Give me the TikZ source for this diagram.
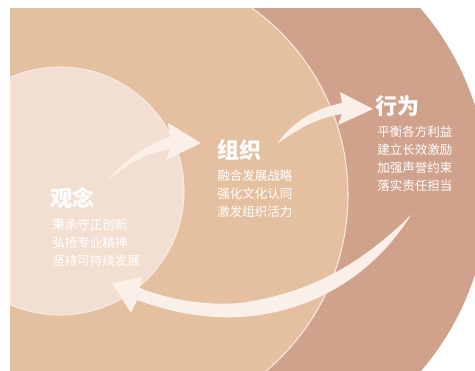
\documentclass[tikz,border=0pt]{standalone}
\usepackage{fontspec}
\newfontfamily\cjk{Noto Sans CJK SC}
\usetikzlibrary{positioning}

\definecolor{outerc}{RGB}{208,162,140}
\definecolor{midc}{RGB}{229,192,160}
\definecolor{innerc}{RGB}{243,222,210}
\definecolor{linec}{RGB}{248,234,224}
\definecolor{arrowc}{RGB}{251,240,233}

\begin{document}
\begin{tikzpicture}[x=0.75pt,y=-0.75pt,
  title/.style={anchor=west,inner sep=0pt,text=white,
    font=\cjk\bfseries\fontsize{16.5}{18}\selectfont},
  item/.style={anchor=west,inner sep=0pt,text=white,
    font=\cjk\fontsize{9.4}{11}\selectfont},
  ring/.style={draw=linec,line width=0.8pt},
  brush/.style={fill=arrowc,draw=none}]
  \useasboundingbox (0,0) rectangle (475,371);
  % draw the three circles
  \begin{scope}
    \clip (10,8) rectangle (475,371);
    \fill[outerc] (210,190) circle (278);
    \fill[midc] (118,195) circle (230);
    \draw[ring] (118,195) circle (230);
    \fill[innerc] (60,191) circle (124);
    \draw[ring] (60,191) circle (124);
  \end{scope}
  % draw titles
  \node[title] (gn) at (50,198) {观念};
  \node[title] (zz) at (217,150) {组织};
  \node[title] (xw) at (375,106) {行为};
  % draw items under each title
  \foreach \t [count=\i from 1] in {秉承守正创新,弘扬专业精神,坚持可持续发展}
    \node[item] (gn\i) at (52,207+18*\i) {\t};
  \foreach \t [count=\i from 1] in {融合发展战略,强化文化认同,激发组织活力}
    \node[item] (zz\i) at (217,158+18*\i) {\t};
  \foreach \t [count=\i from 1] in {平衡各方利益,建立长效激励,加强声誉约束,落实责任担当}
    \node[item] (xw\i) at (377,114.5+17.7*\i) {\t};
  % arrow ends
  \coordinate (t1) at (107,181);
  \coordinate (p1) at (201,143);
  \coordinate (t2) at (277,144);
  \coordinate (p2) at (373,109);
  \coordinate (t3) at (411,215);
  \coordinate (p3) at (112,283);
  % draw arrow from inner circle to middle ring
  \fill[brush] (t1) .. controls (125,160) and (145,145) .. (170,137)
    -- (168,123) -- (p1) -- (166,160) -- (170,149)
    .. controls (145,153) and (125,166) .. (t1) -- cycle;
  % draw arrow from middle ring to outer ring
  \fill[brush] (t2) .. controls (290,125) and (312,109) .. (342,103)
    -- (340,92) -- (p2) -- (338,125) -- (342,114)
    .. controls (315,118) and (295,131) .. (t2) -- cycle;
  % draw return arrow back to inner circle
  \fill[brush] (t3) .. controls (370,255) and (320,292) .. (240,303)
    .. controls (200,306) and (165,298) .. (140,288)
    -- (142,277) -- (p3) -- (131,313) -- (137,300)
    .. controls (170,312) and (205,319) .. (240,317)
    .. controls (320,312) and (378,268) .. (t3) -- cycle;
\end{tikzpicture}
\end{document}
